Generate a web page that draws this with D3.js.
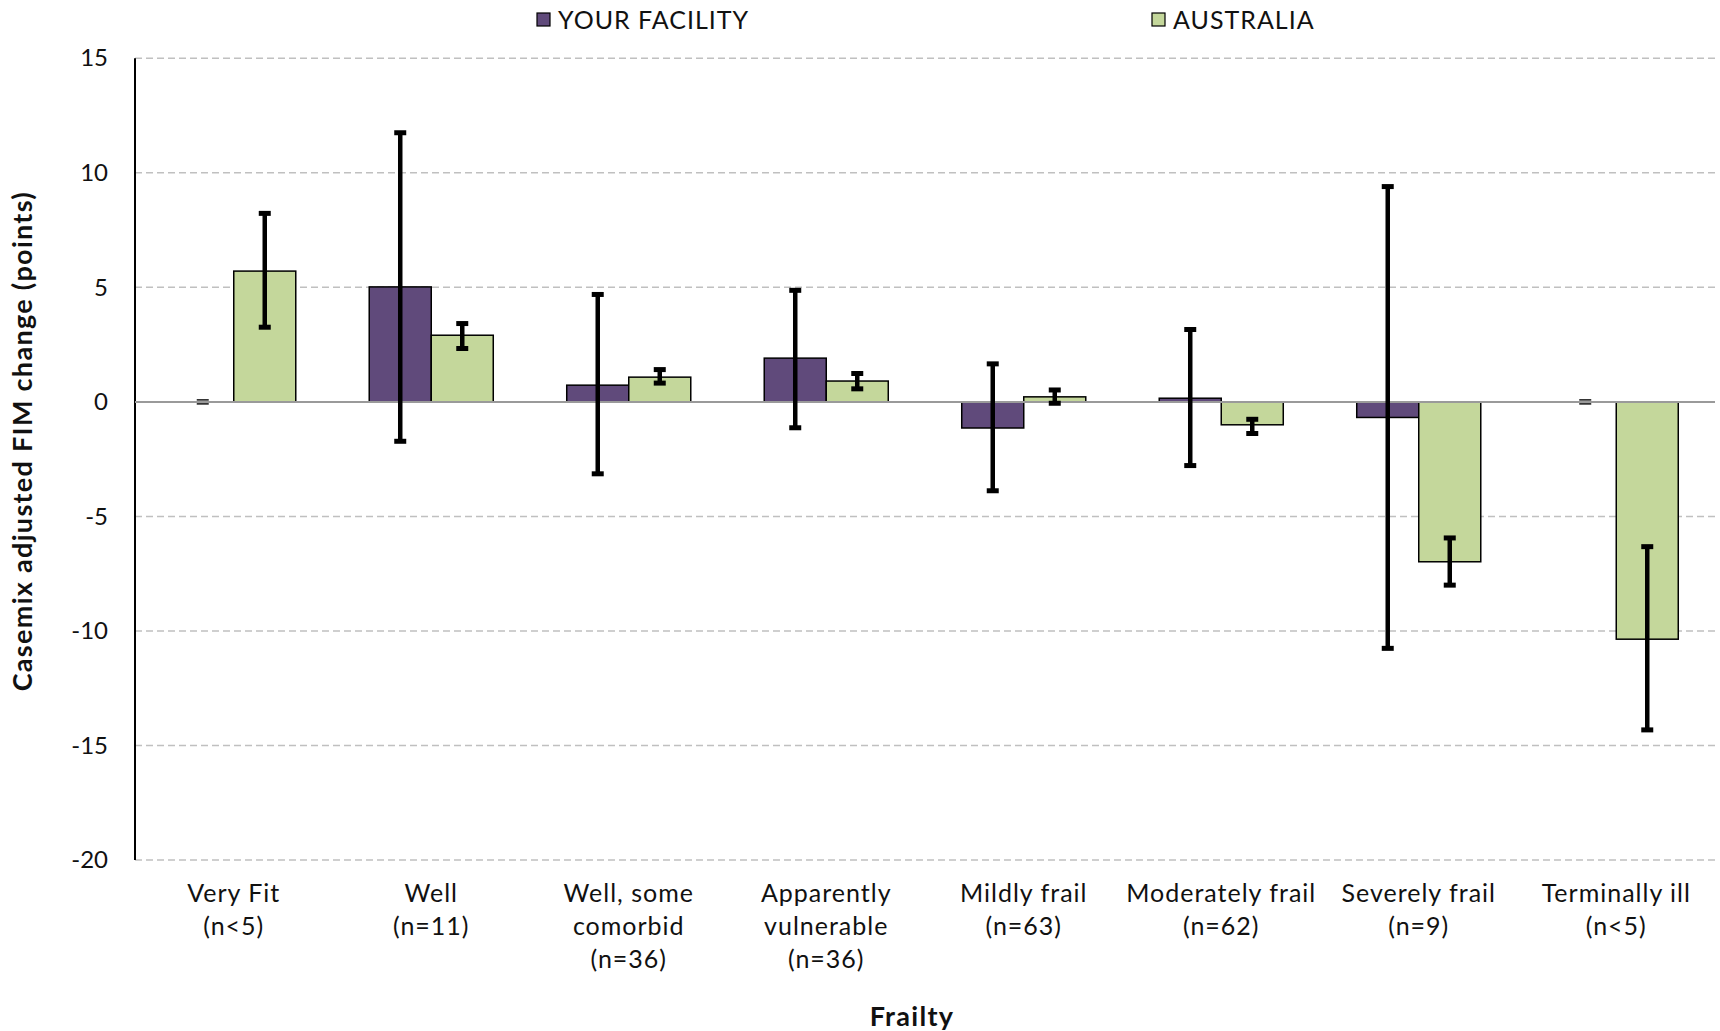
<!DOCTYPE html>
<html>
<head>
<meta charset="utf-8">
<script src="https://cdn.jsdelivr.net/npm/d3@7"></script>
<style>
  html, body { margin: 0; padding: 0; background: #fff; }
  svg { display: block; font-family: "Lato", "Noto Sans", sans-serif; }
</style>
</head>
<body>
<svg id="chart" width="1720" height="1031"></svg>
<script>
// ---- data ----
const categories = [
  ["Very Fit", "(n<5)"],
  ["Well", "(n=11)"],
  ["Well, some", "comorbid", "(n=36)"],
  ["Apparently", "vulnerable", "(n=36)"],
  ["Mildly frail", "(n=63)"],
  ["Moderately frail", "(n=62)"],
  ["Severely frail", "(n=9)"],
  ["Terminally ill", "(n<5)"]
];
const seriesNames = ["YOUR FACILITY", "AUSTRALIA"];
const facility     = [0, 5.02, 0.73, 1.91, -1.14, 0.16, -0.68, 0];
const facilityLow  = [0, -1.72, -3.14, -1.13, -3.88, -2.78, -10.76, 0];
const facilityHigh = [0, 11.75, 4.69, 4.87, 1.66, 3.16, 9.4, 0];
const australia     = [5.71, 2.91, 1.08, 0.91, 0.22, -1.0, -6.98, -10.36];
const australiaLow  = [3.26, 2.33, 0.82, 0.57, -0.06, -1.38, -8.0, -14.32];
const australiaHigh = [8.23, 3.42, 1.41, 1.24, 0.52, -0.76, -5.94, -6.32];
const yTicks = [15, 10, 5, 0, -5, -10, -15, -20];
const yTitle = "Casemix adjusted FIM change (points)";
const xTitle = "Frailty";

// ---- layout ----
const colors = ["#604a7b", "#c4d79b"];
const plotLeft = 135, plotRight = 1715, plotTop = 58.3, plotBottom = 860;
const svg = d3.select("#chart");

const x = d3.scaleBand().domain(d3.range(categories.length)).range([plotLeft, plotRight]).padding(0);
const y = d3.scaleLinear().domain([-20, 15]).range([plotBottom, plotTop]);
const barW = x.bandwidth() * 0.314;

const series = [
  { name: seriesNames[0], values: facility, lo: facilityLow, hi: facilityHigh, color: colors[0], offset: -1 },
  { name: seriesNames[1], values: australia, lo: australiaLow, hi: australiaHigh, color: colors[1], offset: 0 }
];

// gridlines
svg.append("g").selectAll("line").data(yTicks.filter(d => d !== 0)).join("line")
  .attr("x1", plotLeft).attr("x2", plotRight)
  .attr("y1", d => y(d)).attr("y2", d => y(d))
  .attr("stroke", "#c0c0c0").attr("stroke-width", 1.5).attr("stroke-dasharray", "7,4");

// y axis
const yAxis = d3.axisLeft(y).tickValues(yTicks).tickSize(0).tickPadding(27).tickFormat(d => String(d));
const ga = svg.append("g").attr("transform", `translate(${plotLeft},0)`).call(yAxis);
ga.select(".domain").remove();
ga.selectAll("text").attr("font-size", 24).attr("fill", "#111").attr("font-family", "Lato, sans-serif");
svg.append("line").attr("x1", plotLeft).attr("x2", plotLeft).attr("y1", plotTop).attr("y2", plotBottom)
  .attr("stroke", "#000").attr("stroke-width", 2);

// bars
series.forEach(s => {
  const bx = i => x(i) + x.bandwidth() / 2 + s.offset * barW;
  svg.append("g").selectAll("rect").data(s.values).join("rect")
    .attr("x", (d, i) => bx(i))
    .attr("y", d => y(Math.max(0, d)))
    .attr("width", barW)
    .attr("height", d => Math.abs(y(d) - y(0)))
    .attr("fill", s.color)
    .attr("stroke", "#000").attr("stroke-width", 1.5);
});

// zero line
svg.append("line").attr("x1", plotLeft).attr("x2", plotRight).attr("y1", y(0)).attr("y2", y(0))
  .attr("stroke", "#9a9a9a").attr("stroke-width", 2);

// error bars
series.forEach(s => {
  const ex = i => x(i) + x.bandwidth() / 2 + s.offset * barW + barW / 2;
  const g = svg.append("g");
  s.values.forEach((v, i) => {
    const xc = ex(i);
    if (s.lo[i] === s.hi[i]) {
      [-2, 2].forEach(dy => g.append("line")
        .attr("x1", xc - 6).attr("x2", xc + 6)
        .attr("y1", y(s.hi[i]) + dy).attr("y2", y(s.hi[i]) + dy)
        .attr("stroke", "#222").attr("stroke-width", 1.6));
      return;
    }
    g.append("line").attr("x1", xc).attr("x2", xc)
      .attr("y1", y(s.hi[i])).attr("y2", y(s.lo[i]))
      .attr("stroke", "#000").attr("stroke-width", 4.5);
    [s.hi[i], s.lo[i]].forEach(e => g.append("line")
      .attr("x1", xc - 6).attr("x2", xc + 6)
      .attr("y1", y(e)).attr("y2", y(e))
      .attr("stroke", "#000").attr("stroke-width", 5));
  });
});

// category labels
const gl = svg.append("g");
categories.forEach((lines, i) => {
  const t = gl.append("text").attr("text-anchor", "middle")
    .attr("font-size", 25).attr("letter-spacing", 1).attr("fill", "#111");
  lines.forEach((ln, k) => t.append("tspan")
    .attr("x", x(i) + x.bandwidth() / 2).attr("y", 902 + k * 33).text(ln));
});

// axis titles
svg.append("text").attr("x", (plotLeft + plotRight) / 2 - 13).attr("y", 1026)
  .attr("text-anchor", "middle").attr("font-size", 27).attr("letter-spacing", 1.3)
  .attr("font-weight", "bold").attr("fill", "#111")
  .text(xTitle);
svg.append("text").attr("transform", `translate(32,${(plotTop + plotBottom) / 2 - 18}) rotate(-90)`)
  .attr("text-anchor", "middle").attr("font-size", 27).attr("letter-spacing", 1.3)
  .attr("font-weight", "bold").attr("fill", "#111")
  .text(yTitle);

// legend
const legendX = [537, 1152];
series.forEach((s, i) => {
  const g = svg.append("g").attr("transform", `translate(${legendX[i]},20)`);
  g.append("rect").attr("x", 0).attr("y", -7).attr("width", 13).attr("height", 13)
    .attr("fill", s.color).attr("stroke", "#000").attr("stroke-width", 1.2);
  g.append("text").attr("x", 21).attr("y", 0).attr("dy", "0.35em")
    .attr("font-size", 25).attr("letter-spacing", 1).attr("fill", "#111").text(s.name);
});
</script>
</body>
</html>
